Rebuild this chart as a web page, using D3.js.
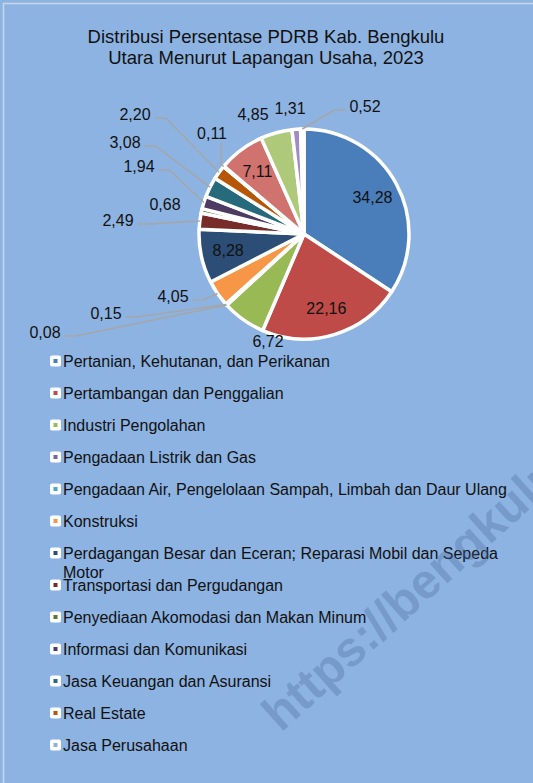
<!DOCTYPE html>
<html>
<head>
<meta charset="utf-8">
<script src="https://cdn.jsdelivr.net/npm/d3@7"></script>
<style>
  body { margin: 0; background: #8DB3E2; }
  svg { display: block; font-family: "Liberation Sans", Arial, sans-serif; }
</style>
</head>
<body>
<svg id="chart"></svg>
<script>
// Data
const categories = [
  "Pertanian, Kehutanan, dan Perikanan",
  "Pertambangan dan Penggalian",
  "Industri Pengolahan",
  "Pengadaan Listrik dan Gas",
  "Pengadaan Air, Pengelolaan Sampah, Limbah dan Daur Ulang",
  "Konstruksi",
  "Perdagangan Besar dan Eceran; Reparasi Mobil dan Sepeda Motor",
  "Transportasi dan Pergudangan",
  "Penyediaan Akomodasi dan Makan Minum",
  "Informasi dan Komunikasi",
  "Jasa Keuangan dan Asuransi",
  "Real Estate",
  "Jasa Perusahaan",
  "Administrasi Pemerintahan, Pertahanan dan Jaminan Sosial Wajib",
  "Jasa Pendidikan",
  "Jasa Kesehatan dan Kegiatan Sosial",
  "Jasa Lainnya"
];
const shares = [34.28, 22.16, 6.72, 0.08, 0.15, 4.05, 8.28, 2.49, 0.68, 1.94, 3.08, 2.20, 0.11, 7.11, 4.85, 1.31, 0.52];
const sliceColors = [
  "#4A7EBB", "#BE4B48", "#98B954", "#7D60A0", "#46AAC5", "#F79646",
  "#2C4D75", "#772C2A", "#5F7530", "#4D3B62", "#276A7C", "#B65708",
  "#8FB0DA", "#D0736F", "#AFC97A", "#A08CC0", "#6FBDD1"
];
const legendShown = 13;  // the rest of the legend is cut off in the picture

// label layout (offsets from pie centre), mode = how the leader line runs
const insideLabels = [0, 1, 6, 13];
const outsideLabels = {
  2:  { dx: -36,  dy: 107,  mode: null },
  3:  { dx: -259, dy: 98,   mode: "left" },
  4:  { dx: -198, dy: 79,   mode: "left" },
  5:  { dx: -131, dy: 62,   mode: "left" },
  7:  { dx: -186, dy: -14,  mode: "left" },
  8:  { dx: -139, dy: -30,  mode: null },
  9:  { dx: -165, dy: -68,  mode: "left" },
  10: { dx: -179, dy: -92,  mode: "left" },
  11: { dx: -169, dy: -120, mode: "left" },
  12: { dx: -92,  dy: -101, mode: "below" },
  14: { dx: -51,  dy: -120, mode: null },
  15: { dx: -14,  dy: -126, mode: null },
  16: { dx: 61,   dy: -128, mode: "right" }
};

const width = 533, height = 783;
const cx = 304, cy = 234, radius = 105;
const fmt = d3.formatLocale({ decimal: ",", thousands: ".", grouping: [3], currency: ["", ""] }).format(".2f");

const svg = d3.select("#chart").attr("width", width).attr("height", height);

svg.append("rect").attr("width", width).attr("height", height).attr("fill", "#8DB3E2");
svg.append("rect")
  .attr("x", 3.5).attr("y", 3.5).attr("width", width + 20).attr("height", height + 20)
  .attr("fill", "none").attr("stroke", "#CBD6E3").attr("stroke-width", 1.5);

// Title
svg.append("text")
  .attr("x", 266).attr("text-anchor", "middle")
  .attr("font-size", 18.5).attr("fill", "#111")
  .selectAll("tspan")
  .data(["Distribusi Persentase PDRB Kab. Bengkulu", "Utara Menurut Lapangan Usaha, 2023"])
  .join("tspan")
  .attr("x", 266)
  .attr("y", (d, i) => 36 + i * 21.5)
  .attr("dominant-baseline", "central")
  .text(d => d);

// Pie
const pie = d3.pie().sort(null).value(d => d).startAngle(0).endAngle(2 * Math.PI);
const arcs = pie(shares);
const arc = d3.arc().innerRadius(0).outerRadius(radius);
const color = d3.scaleOrdinal().domain(d3.range(shares.length)).range(sliceColors);

const g = svg.append("g").attr("transform", `translate(${cx},${cy})`);

g.selectAll("path.slice")
  .data(arcs)
  .join("path")
  .attr("class", "slice")
  .attr("d", arc)
  .attr("fill", (d, i) => color(i))
  .attr("stroke", "#fff")
  .attr("stroke-width", 3.5)
  .attr("stroke-linejoin", "round");

// Inside labels
const labelArc = d3.arc().innerRadius(radius * 0.74).outerRadius(radius * 0.74);
g.selectAll("text.inside")
  .data(arcs.filter(d => insideLabels.includes(d.index)))
  .join("text")
  .attr("class", "inside")
  .attr("transform", d => `translate(${labelArc.centroid(d)})`)
  .attr("text-anchor", "middle")
  .attr("dominant-baseline", "central")
  .attr("font-size", 16)
  .attr("fill", "#111")
  .text(d => fmt(d.value));

// Outside labels with leader lines
const outData = arcs.filter(d => outsideLabels[d.index]);
const outText = g.selectAll("text.outside")
  .data(outData)
  .join("text")
  .attr("class", "outside")
  .attr("x", d => outsideLabels[d.index].dx)
  .attr("y", d => outsideLabels[d.index].dy)
  .attr("text-anchor", "middle")
  .attr("dominant-baseline", "central")
  .attr("font-size", 16)
  .attr("fill", "#111")
  .text(d => fmt(d.value));

const edgeArc = d3.arc().innerRadius(radius).outerRadius(radius);
outText.each(function(d) {
  const L = outsideLabels[d.index];
  if (!L.mode) return;
  const w = this.getComputedTextLength();
  const end = edgeArc.centroid(d);
  let pts;
  if (L.mode == "left") {
    const x0 = L.dx + w / 2 + 4, y0 = L.dy + 4;
    pts = [[x0, y0], [x0 + 11, y0], end];
  } else if (L.mode == "right") {
    const x0 = L.dx - w / 2 - 4, y0 = L.dy + 4;
    pts = [[x0, y0], [x0 - 11, y0], end];
  } else {
    const x0 = L.dx + 9, y0 = L.dy + 10;
    pts = [[x0, y0], [x0, end[1] - 2], end];
  }
  g.insert("path", "text")
    .attr("d", d3.line()(pts))
    .attr("fill", "none")
    .attr("stroke", "#A6A6A6")
    .attr("stroke-width", 1.5);
});

// Legend
const legend = svg.append("g").attr("transform", "translate(50,361)");
const items = legend.selectAll("g")
  .data(categories.slice(0, legendShown))
  .join("g")
  .attr("transform", (d, i) => `translate(0,${i * 32})`);

items.append("rect")
  .attr("x", 0).attr("y", -5.5).attr("width", 11).attr("height", 11)
  .attr("rx", 2).attr("fill", "#fff");
items.append("rect")
  .attr("x", 3.5).attr("y", -2).attr("width", 4).attr("height", 4)
  .attr("fill", (d, i) => color(i));

items.append("text")
  .attr("x", 13)
  .attr("font-size", 16)
  .attr("fill", "#111")
  .each(function(d) {
    const t = d3.select(this);
    const words = d.split(" ");
    let line = [], lineNo = 0;
    let tspan = t.append("tspan").attr("x", 13).attr("y", 0).attr("dominant-baseline", "central");
    words.forEach(w => {
      line.push(w);
      tspan.text(line.join(" "));
      if (tspan.node().getComputedTextLength() > 460 && line.length > 1) {
        line.pop();
        tspan.text(line.join(" "));
        line = [w];
        lineNo++;
        tspan = t.append("tspan").attr("x", 13).attr("y", lineNo * 19)
          .attr("dominant-baseline", "central").text(w);
      }
    });
  });

// Watermark
svg.append("text")
  .attr("transform", "translate(281,733) rotate(-42)")
  .attr("font-size", 49)
  .attr("font-weight", "bold")
  .attr("fill", "#46699A")
  .attr("fill-opacity", 0.32)
  .text("https://bengkuluutarakab.bps.go.id");
</script>
</body>
</html>
